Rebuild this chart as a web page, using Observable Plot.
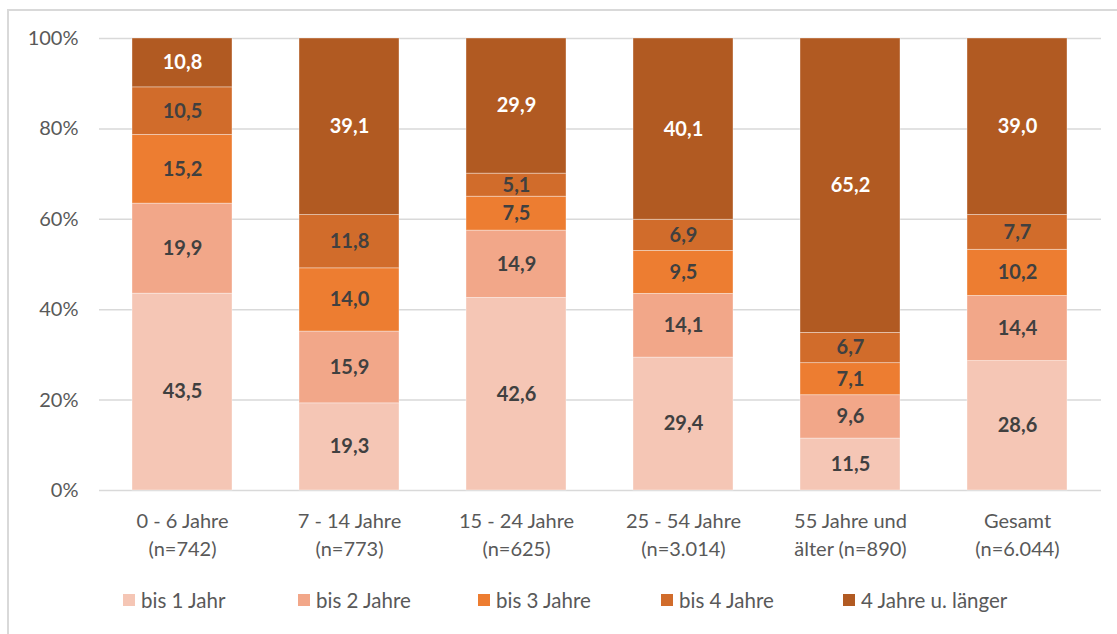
<!DOCTYPE html>
<html>
<head>
<meta charset="utf-8">
<script src="https://cdn.jsdelivr.net/npm/d3@7"></script>
<script src="https://cdn.jsdelivr.net/npm/@observablehq/plot@0.6"></script>
<style>
  html, body { margin: 0; padding: 0; background: #fff; overflow: hidden; }
  body { width: 1117px; height: 634px; position: relative; font-family: Lato, "Open Sans", sans-serif; }
  #frame { position: absolute; left: 7px; top: 9px; width: 1200px; height: 700px; border-left: 2px solid #d9d9d9; border-top: 2px solid #d9d9d9; }
  #chart { position: absolute; left: 0; top: 0; }
  #legend { position: absolute; left: 0; top: 588px; width: 1117px; height: 26px; }
  .li { position: absolute; top: 0; display: flex; align-items: center; font-size: 20.5px; color: #595959; white-space: nowrap; }
  .sw { width: 12px; height: 12px; margin-right: 6px; }
</style>
</head>
<body>
<div id="frame"></div>
<div id="chart"></div>
<div id="legend"></div>
<script>
const categories = ["0 - 6 Jahre\n(n=742)", "7 - 14 Jahre\n(n=773)", "15 - 24 Jahre\n(n=625)", "25 - 54 Jahre\n(n=3.014)", "55 Jahre und\nälter (n=890)", "Gesamt\n(n=6.044)"];
const seriesNames = ["bis 1 Jahr", "bis 2 Jahre", "bis 3 Jahre", "bis 4 Jahre", "4 Jahre u. länger"];
const bis1 = [43.5, 19.3, 42.6, 29.4, 11.5, 28.6];
const bis2 = [19.9, 15.9, 14.9, 14.1, 9.6, 14.4];
const bis3 = [15.2, 14.0, 7.5, 9.5, 7.1, 10.2];
const bis4 = [10.5, 11.8, 5.1, 6.9, 6.7, 7.7];
const laenger = [10.8, 39.1, 29.9, 40.1, 65.2, 39.0];
const colors = ["#F5C6B5", "#F2A789", "#ED7D31", "#D16C2B", "#B15A22"];
const yTicks = [0, 0.2, 0.4, 0.6, 0.8, 1.0];

const seriesValues = [bis1, bis2, bis3, bis4, laenger];
const data = [];
seriesNames.forEach((s, si) => {
  categories.forEach((c, ci) => {
    data.push({category: c, series: s, value: seriesValues[si][ci], si});
  });
});

const fmt = v => v.toFixed(1).replace(".", ",");

const chart = Plot.plot({
  width: 1117,
  height: 570,
  marginLeft: 99,
  marginRight: 16,
  marginTop: 38,
  marginBottom: 80,
  style: {fontFamily: "Lato, 'Open Sans', sans-serif", background: "transparent"},
  x: {domain: categories, paddingInner: 0.4, paddingOuter: 0.2, label: null},
  y: {domain: [0, 1], label: null},
  color: {domain: seriesNames, range: colors},
  marks: [
    Plot.ruleY(yTicks, {stroke: "#d9d9d9", strokeWidth: 1.5}),
    Plot.barY(data, Plot.stackY({
      offset: "normalize", order: null,
      x: "category", y: "value", z: "series", fill: "series",
      stroke: "#ffffff", strokeOpacity: 0.45, strokeWidth: 0.8
    })),
    Plot.text(data, Plot.stackY({
      offset: "normalize", order: null,
      x: "category", y: "value", z: "series",
      text: d => fmt(d.value),
      fill: d => d.si === 4 ? "#ffffff" : "#404040",
      fontWeight: "bold", fontSize: 20
    })),
    Plot.axisY({
      ticks: yTicks, tickFormat: d => Math.round(d * 100) + "%",
      tickSize: 0, tickPadding: 21, fontSize: 20, color: "#595959", label: null
    }),
    Plot.axisX({
      tickSize: 0, tickPadding: 18, fontSize: 20, color: "#595959", label: null,
      lineHeight: 1.4
    })
  ]
});
document.getElementById("chart").appendChild(chart);

// legend
const legend = document.getElementById("legend");
const lx = [123, 298, 478, 661, 843];
seriesNames.forEach((s, i) => {
  const el = document.createElement("div");
  el.className = "li";
  el.style.left = lx[i] + "px";
  el.innerHTML = `<div class="sw" style="background:${colors[i]}"></div><span>${s}</span>`;
  legend.appendChild(el);
});
</script>
</body>
</html>
